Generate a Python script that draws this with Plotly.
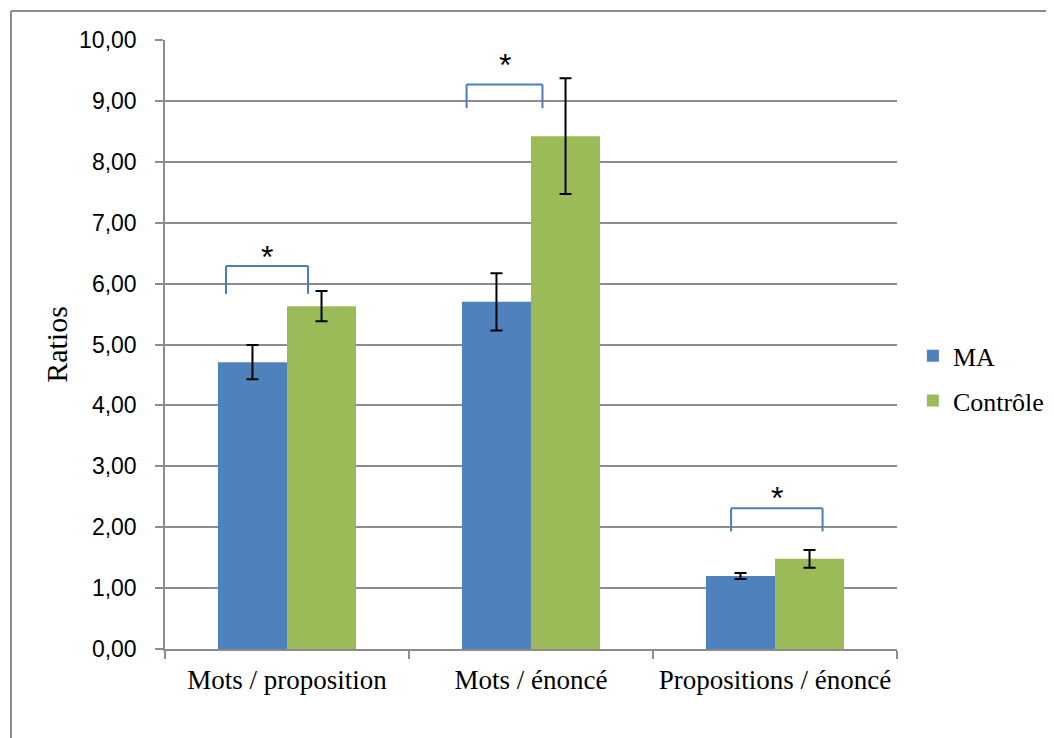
import plotly.graph_objects as go

categories = ["Mots / proposition", "Mots / énoncé", "Propositions / énoncé"]
ma_values = [4.71, 5.70, 1.20]
ma_errors = [0.28, 0.47, 0.05]
ctrl_values = [5.63, 8.42, 1.48]
ctrl_errors = [0.25, 0.95, 0.145]

# significance brackets: category index, left/right offset, top, leg bottom
bracket_cat = [0, 1, 2]
bracket_left = [-0.25, -0.264, -0.18]
bracket_right = [0.086, 0.047, 0.195]
bracket_top = [6.29, 9.27, 2.31]
bracket_foot = [5.83, 8.88, 1.93]
star_y = [6.50, 9.66, 2.55]

y_ticks = [0, 1, 2, 3, 4, 5, 6, 7, 8, 9, 10]

BLUE = "#4F81BD"
GREEN = "#9BBB59"
SERIF = "Liberation Serif"
SANS = "Liberation Sans"

fig = go.Figure()
fig.add_trace(go.Bar(
    name="MA", x=categories, y=ma_values, marker_color=BLUE,
    marker_line_width=0, legendgroup="a",
    error_y=dict(type="data", array=ma_errors, color="black", thickness=2, width=6),
))
fig.add_trace(go.Bar(
    name="Contrôle", x=categories, y=ctrl_values, marker_color=GREEN,
    marker_line_width=0, legendgroup="b",
    error_y=dict(type="data", array=ctrl_errors, color="black", thickness=2, width=6),
))

shapes = []
for c, l, r, t, f in zip(bracket_cat, bracket_left, bracket_right, bracket_top, bracket_foot):
    line = dict(color="#4A7EBB", width=2)
    shapes.append(dict(type="line", xref="x", yref="y", x0=c + l, x1=c + r, y0=t, y1=t, line=line))
    shapes.append(dict(type="line", xref="x", yref="y", x0=c + l, x1=c + l, y0=t, y1=f, line=line))
    shapes.append(dict(type="line", xref="x", yref="y", x0=c + r, x1=c + r, y0=t, y1=f, line=line))

# outer frame (top and left edges)
frame = dict(color="#8C8C8C", width=2)
shapes.append(dict(type="line", xref="paper", yref="paper", x0=-0.2104, x1=1.3, y0=1.0476, y1=1.0476, line=frame))
shapes.append(dict(type="line", xref="paper", yref="paper", x0=-0.2104, x1=-0.2104, y0=1.0476, y1=-0.3, line=frame))

annotations = []
for c, l, r, s in zip(bracket_cat, bracket_left, bracket_right, star_y):
    annotations.append(dict(
        x=c + (l + r) / 2, y=s, xref="x", yref="y", text="*", showarrow=False,
        yanchor="middle", yshift=-4, font=dict(family=SANS, size=32, color="black"),
    ))

fig.update_layout(
    width=1046, height=730,
    margin=dict(l=157, r=157, t=32, b=89, autoexpand=False),
    paper_bgcolor="white", plot_bgcolor="white",
    separators=", ",
    barmode="group", bargap=0.434, bargroupgap=0,
    shapes=shapes, annotations=annotations,
    legend=dict(
        x=1.0217, y=0.52, xanchor="left", yanchor="top",
        font=dict(family=SERIF, size=26, color="black"),
        tracegroupgap=8, itemwidth=30, bgcolor="rgba(0,0,0,0)",
    ),
    yaxis=dict(
        range=[0, 10], tickvals=y_ticks, tickformat=".2f",
        showgrid=True, gridcolor="#8C8C8C", gridwidth=1.5,
        showline=True, linecolor="#8C8C8C", linewidth=1.5,
        ticks="outside", ticklen=8, tickcolor="#8C8C8C", tickwidth=1.5,
        ticklabelstandoff=14,
        tickfont=dict(family=SANS, size=23, color="black"),
        title=dict(text="Ratios", font=dict(family=SERIF, size=30, color="black"), standoff=3),
        zeroline=False, fixedrange=True, automargin=False,
    ),
    xaxis=dict(
        showline=True, linecolor="#8C8C8C", linewidth=1.5,
        ticks="outside", tickson="boundaries", ticklen=8, tickcolor="#8C8C8C", tickwidth=1.5,
        tickfont=dict(family=SERIF, size=27, color="black"),
        tickangle=0, ticklabelstandoff=6,
        fixedrange=True, automargin=False,
    ),
)

fig.write_html("out.html")
